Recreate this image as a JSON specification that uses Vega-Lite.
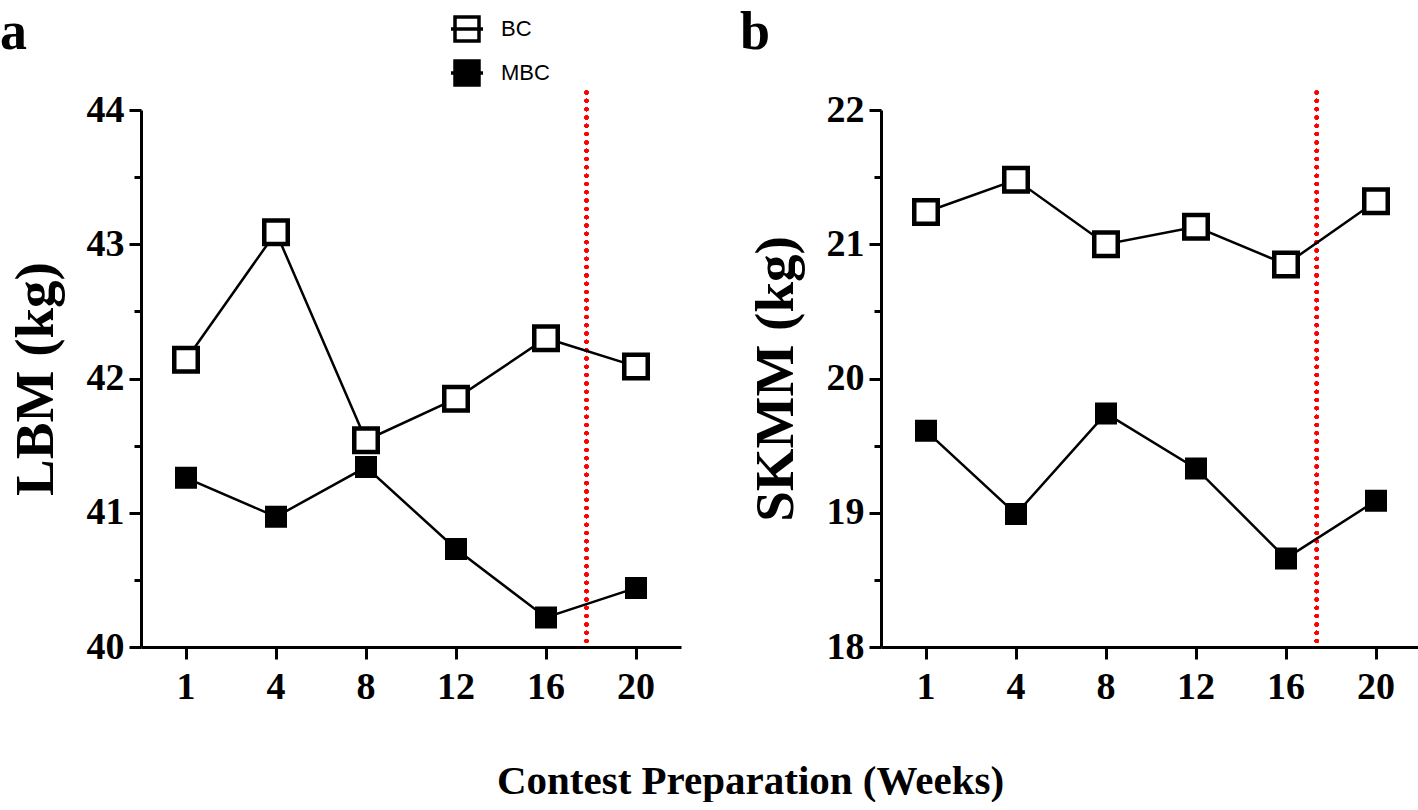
{
  "$schema": "https://vega.github.io/schema/vega-lite/v6.json",
  "background": "white",
  "padding": {"left": 0, "top": 5, "right": 0, "bottom": 0},
  "datasets": {
    "all": [
      {"panel": "a", "week": 1, "group": "BC", "value": 42.14},
      {"panel": "a", "week": 4, "group": "BC", "value": 43.09},
      {"panel": "a", "week": 8, "group": "BC", "value": 41.54},
      {"panel": "a", "week": 12, "group": "BC", "value": 41.85},
      {"panel": "a", "week": 16, "group": "BC", "value": 42.30},
      {"panel": "a", "week": 20, "group": "BC", "value": 42.09},
      {"panel": "a", "week": 1, "group": "MBC", "value": 41.26},
      {"panel": "a", "week": 4, "group": "MBC", "value": 40.97},
      {"panel": "a", "week": 8, "group": "MBC", "value": 41.34},
      {"panel": "a", "week": 12, "group": "MBC", "value": 40.73},
      {"panel": "a", "week": 16, "group": "MBC", "value": 40.22},
      {"panel": "a", "week": 20, "group": "MBC", "value": 40.44},
      {"panel": "b", "week": 1, "group": "BC", "value": 21.24},
      {"panel": "b", "week": 4, "group": "BC", "value": 21.48},
      {"panel": "b", "week": 8, "group": "BC", "value": 21.00},
      {"panel": "b", "week": 12, "group": "BC", "value": 21.13},
      {"panel": "b", "week": 16, "group": "BC", "value": 20.85},
      {"panel": "b", "week": 20, "group": "BC", "value": 21.32},
      {"panel": "b", "week": 1, "group": "MBC", "value": 19.61},
      {"panel": "b", "week": 4, "group": "MBC", "value": 18.99},
      {"panel": "b", "week": 8, "group": "MBC", "value": 19.74},
      {"panel": "b", "week": 12, "group": "MBC", "value": 19.33},
      {"panel": "b", "week": 16, "group": "MBC", "value": 18.66},
      {"panel": "b", "week": 20, "group": "MBC", "value": 19.09}
    ]
  },
  "title": {
    "text": "Contest Preparation (Weeks)",
    "orient": "bottom",
    "anchor": "middle",
    "font": "Liberation Serif",
    "fontWeight": "bold",
    "fontSize": 41,
    "color": "black",
    "offset": 56,
    "dx": 40
  },
  "spacing": 59,
  "hconcat": [
    {
      "title": {"text": "a", "anchor": "start", "frame": "bounds", "font": "Liberation Serif", "fontWeight": "bold", "fontSize": 54, "color": "black", "offset": 31, "dx": -8},
      "width": 540,
      "height": 537,
      "data": {"name": "all"},
      "transform": [{"filter": "datum.panel === 'a'"}],
      "layer": [
        {
          "mark": {"type": "rule", "color": "#ff0000", "strokeWidth": 4, "strokeDash": [0.01, 8.3], "strokeCap": "round"},
          "encoding": {
            "x": {"datum": 16, "type": "ordinal", "bandPosition": 0.95},
            "y": {"datum": 44.13, "type": "quantitative"},
            "y2": {"datum": 40}
          }
        },
        {
          "mark": {"type": "line", "color": "black", "strokeWidth": 2.5},
          "encoding": {"detail": {"field": "group", "type": "nominal"}}
        },
        {
          "mark": {"type": "point", "shape": "square", "stroke": "black", "strokeWidth": 4.5, "opacity": 1, "filled": false},
          "encoding": {
            "fill": {"field": "group", "type": "nominal", "scale": {"domain": ["BC", "MBC"], "range": ["white", "black"]}},
            "size": {"condition": {"test": "datum.group === 'BC'", "value": 552}, "value": 306}
          }
        }
      ],
      "encoding": {
        "x": {"field": "week", "type": "ordinal", "scale": {"type": "band", "paddingInner": 0, "paddingOuter": 0},
          "axis": {"title": null, "labelAngle": 0}},
        "y": {"field": "value", "type": "quantitative",
          "scale": {"domain": [40, 44], "nice": false, "zero": false},
          "axis": {"title": "LBM (kg)", "values": [40, 40.5, 41, 41.5, 42, 42.5, 43, 43.5, 44],
            "labelExpr": "datum.value % 1 === 0 ? datum.value : ''",
            "tickSize": {"condition": {"test": "datum.value % 1 === 0", "value": 12}, "value": 7}}}
      }
    },
    {
      "title": {"text": "b", "anchor": "start", "frame": "bounds", "font": "Liberation Serif", "fontWeight": "bold", "fontSize": 54, "color": "black", "offset": 31, "dx": -8},
      "width": 540,
      "height": 537,
      "data": {"name": "all"},
      "transform": [{"filter": "datum.panel === 'b'"}],
      "layer": [
        {
          "mark": {"type": "rule", "color": "#ff0000", "strokeWidth": 4, "strokeDash": [0.01, 8.3], "strokeCap": "round"},
          "encoding": {
            "x": {"datum": 16, "type": "ordinal", "bandPosition": 0.84},
            "y": {"datum": 22.13, "type": "quantitative"},
            "y2": {"datum": 18}
          }
        },
        {
          "mark": {"type": "line", "color": "black", "strokeWidth": 2.5},
          "encoding": {"detail": {"field": "group", "type": "nominal"}}
        },
        {
          "mark": {"type": "point", "shape": "square", "stroke": "black", "strokeWidth": 4.5, "opacity": 1, "filled": false},
          "encoding": {
            "fill": {"field": "group", "type": "nominal", "scale": {"domain": ["BC", "MBC"], "range": ["white", "black"]}},
            "size": {"condition": {"test": "datum.group === 'BC'", "value": 552}, "value": 306}
          }
        }
      ],
      "encoding": {
        "x": {"field": "week", "type": "ordinal", "scale": {"type": "band", "paddingInner": 0, "paddingOuter": 0},
          "axis": {"title": null, "labelAngle": 0}},
        "y": {"field": "value", "type": "quantitative",
          "scale": {"domain": [18, 22], "nice": false, "zero": false},
          "axis": {"title": "SKMM (kg)", "values": [18, 18.5, 19, 19.5, 20, 20.5, 21, 21.5, 22],
            "labelExpr": "datum.value % 1 === 0 ? datum.value : ''",
            "tickSize": {"condition": {"test": "datum.value % 1 === 0", "value": 12}, "value": 7}}}
      }
    }
  ],
  "resolve": {"scale": {"fill": "shared"}},
  "config": {
    "view": {"stroke": null},
    "axis": {
      "grid": false,
      "domainColor": "black",
      "domainWidth": 3,
      "tickColor": "black",
      "tickWidth": 3,
      "tickSize": 12,
      "labelFont": "Liberation Serif",
      "labelFontWeight": "bold",
      "labelFontSize": 38,
      "labelColor": "black",
      "labelPadding": 5,
      "titleFont": "Liberation Serif",
      "titleFontWeight": "bold",
      "titleFontSize": 55,
      "titleColor": "black",
      "titlePadding": 22
    },
    "axisX": {"labelPadding": 9},
    "legend": {
      "orient": "none",
      "legendX": 308,
      "legendY": -99,
      "title": null,
      "symbolType": "M-1,0H1M-0.75,-0.75H0.75V0.75H-0.75Z",
      "symbolSize": 1024,
      "symbolStrokeColor": "black",
      "symbolStrokeWidth": 3.5,
      "labelFont": "Liberation Sans",
      "labelFontSize": 22,
      "labelColor": "black",
      "labelOffset": 16,
      "rowPadding": 6,
      "padding": 0
    }
  }
}
